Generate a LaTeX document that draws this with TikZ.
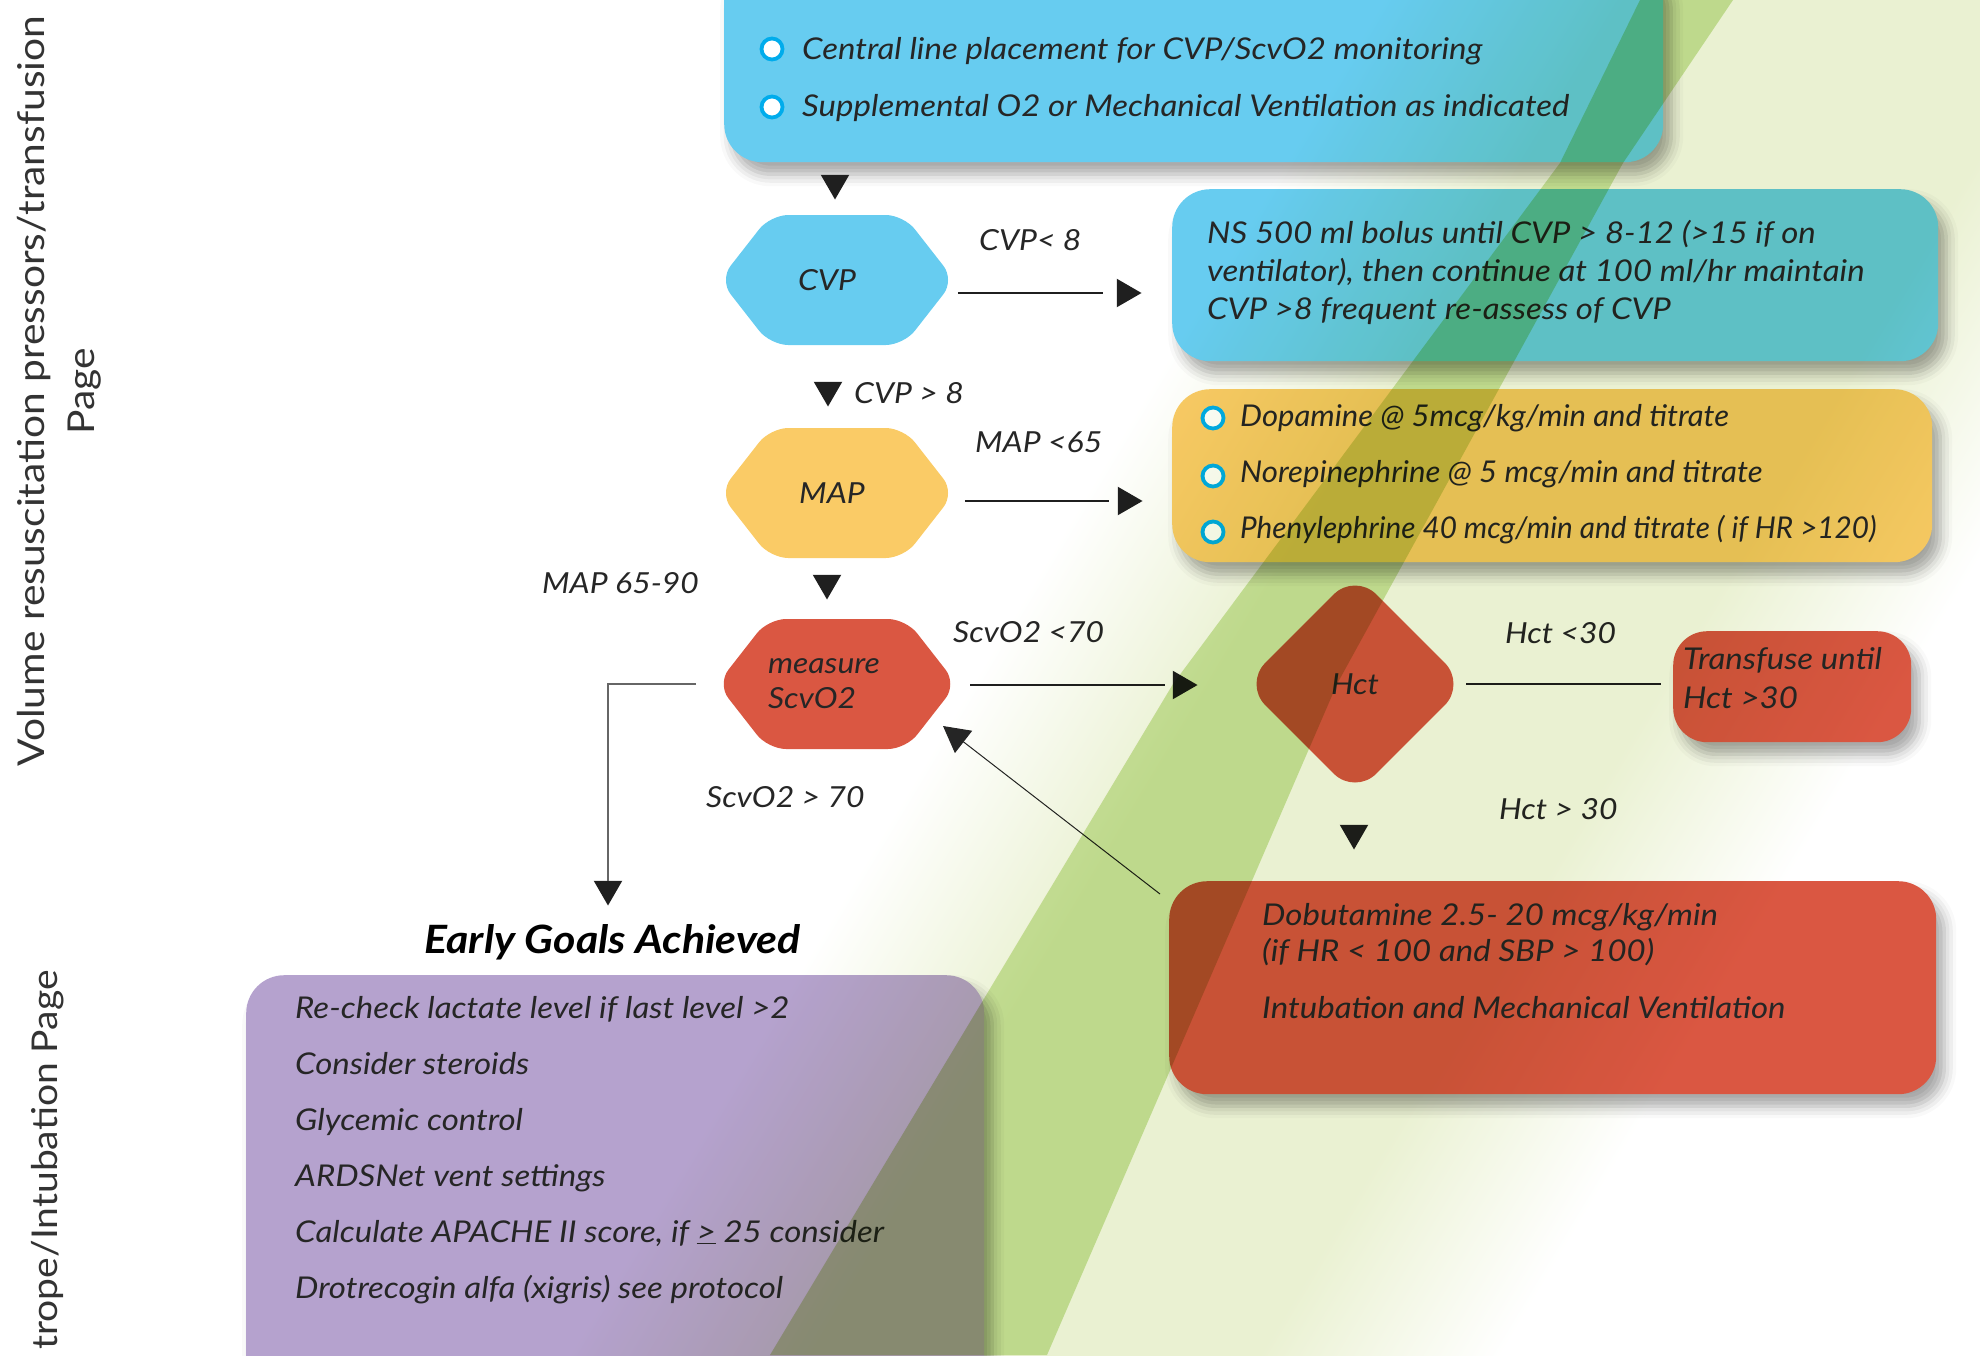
\documentclass[tikz,border=0pt]{standalone}
\usepackage{fontspec}
\setmainfont{Lato}[FakeStretch=1.1]
\usetikzlibrary{shapes.geometric,shapes.symbols,arrows.meta,shadows.blur}
\definecolor{cvpblue}{RGB}{103,204,240}
\definecolor{mapyellow}{RGB}{250,203,102}
\definecolor{scvred}{RGB}{218,87,66}
\definecolor{goalpurple}{RGB}{181,162,206}
\definecolor{ringblue}{RGB}{0,172,236}
\definecolor{washgreen}{RGB}{234,241,210}
\definecolor{coregreen}{RGB}{208,230,170}
\pgfdeclareverticalshading{washshade}{100bp}{color(0bp)=(white); color(25bp)=(white); color(38bp)=(washgreen); color(62bp)=(washgreen); color(75bp)=(white); color(100bp)=(white)}
\newcommand\txtbody{\fontsize{30}{36}\selectfont\itshape}
\newcommand\txtlabel{\fontsize{29}{35}\selectfont\itshape}
\newcommand\txtbold{\fontsize{39}{46}\selectfont\bfseries\itshape}
\newcommand\txtside{\fontsize{37}{44}\selectfont}
\tikzset{
  panel/.style={rounded corners=38pt, inner sep=0pt, anchor=north west,
    blur shadow={shadow xshift=8pt, shadow yshift=-12pt, shadow blur radius=12pt, shadow opacity=35}},
  hexnode/.style={signal, signal to=east and west, signal pointer angle=104,
    minimum width=235pt, minimum height=130pt, inner sep=0pt, rounded corners=18pt,
    font=\txtlabel, text=black!85},
  decide/.style={diamond, aspect=1, minimum width=222pt, minimum height=222pt,
    inner sep=0pt, rounded corners=30pt, font=\txtlabel, text=black!85},
  txtline/.style={font=\txtbody, anchor=base west, inner sep=0pt, text=black!85},
  lbl/.style={font=\txtlabel, anchor=base west, inner sep=0pt, text=black!85},
  side/.style={font=\txtside, inner sep=0pt, text=black!80},
  bul/.style={circle, draw=ringblue, line width=3.8pt, fill=white, minimum size=21pt, inner sep=0pt},
  tipR/.style={regular polygon, regular polygon sides=3, shape border rotate=-90,
    fill=black!88, minimum size=33pt, inner sep=0pt},
  tipD/.style={regular polygon, regular polygon sides=3, shape border rotate=180,
    fill=black!88, minimum size=33pt, inner sep=0pt},
  conn/.style={line width=1.4pt, black!88},
}
\begin{document}
\begin{tikzpicture}[x=1pt, y=-1pt]
\useasboundingbox (0,0) rectangle (1980,1355);
\clip (0,0) rectangle (1980,1355);

% side titles
\node[side, rotate=90] (vol) at (34,391) {Volume resuscitation pressors/transfusion};
\node[side, rotate=90] (volpg) at (85,391) {Page};
\node[side, font=\fontsize{35.5}{42}\selectfont, rotate=90, anchor=east] (ino) at (48,970) {trope/Intubation Page};

% setup panel
\node[panel, fill=cvpblue, minimum width=939pt, minimum height=202pt] (setup) at (724,-40) {};
\node[bul] (b1) at (772,49) {};
\node[txtline] (s1) at (802,59) {Central line placement for CVP/ScvO2 monitoring};
\node[bul] (b2) at (772,107) {};
\node[txtline] (s2) at (802,116) {Supplemental O2 or Mechanical Ventilation as indicated};
\node[tipD] (d1) at (835,183) {};

% CVP
\node[hexnode, fill=cvpblue] (cvp) at (837,280) {CVP\kern20pt};
\node[lbl] (cvplo) at (979,250) {CVP< 8};
\node[tipR] (r1) at (1125,293) {};
\draw[conn] ([xshift=3pt]cvp.east |- r1) -- ([xshift=-14pt]r1.west);
\node[panel, fill=cvpblue, minimum width=766pt, minimum height=172pt] (fluid) at (1172,189) {};
\node[txtline] (f1) at (1207,243) {NS 500 ml bolus until CVP > 8-12 (>15 if on};
\node[txtline] (f2) at (1207,281) {ventilator), then continue at 100 ml/hr maintain};
\node[txtline] (f3) at (1207,319) {CVP >8 frequent re-assess of CVP};
\node[tipD] (d2) at (828,390) {};
\node[lbl] (cvphi) at (854,403) {CVP > 8};

% MAP
\node[hexnode, fill=mapyellow] (map) at (837,493) {MAP\kern10pt};
\node[lbl] (maplo) at (975,452) {MAP <65};
\node[tipR] (r2) at (1126,501) {};
\draw[conn] ([xshift=10pt]map.east |- r2) -- ([xshift=-9pt]r2.west);
\node[panel, fill=mapyellow, minimum width=760pt, minimum height=173pt] (press) at (1172,389) {};
\node[bul] (b3) at (1213,418) {};
\node[txtline, xscale=0.94] (p1) at (1240,426) {Dopamine @ 5mcg/kg/min and titrate};
\node[bul] (b4) at (1213,476) {};
\node[txtline, xscale=0.945] (p2) at (1240,482) {Norepinephrine @ 5 mcg/min and titrate};
\node[bul] (b5) at (1213,532) {};
\node[txtline, xscale=0.9] (p3) at (1240,538) {Phenylephrine 40 mcg/min and titrate ( if HR >120)};
\node[tipD] (d3) at (827,583) {};
\node[lbl] (mapok) at (542,593) {MAP 65-90};

% ScvO2
\node[hexnode, fill=scvred, align=left] (scv) at (837,684) {measure\kern26pt\\ScvO2};
\node[lbl] (scvlo) at (953,642) {ScvO2 <70};
\node[tipR] (r3) at (1181,685) {};
\draw[conn] ([xshift=13pt]scv.east |- r3) -- ([xshift=-8pt]r3.west);
\node[lbl] (scvok) at (706,807) {ScvO2 > 70};

% Hct
\node[decide, fill=scvred] (hct) at (1355,684) {Hct};
\node[lbl] (hctlo) at (1505,643) {Hct <30};
\node[panel, fill=scvred, minimum width=238pt, minimum height=111pt, rounded corners=34pt] (trans) at (1673,631) {};
\node[txtline] (t1) at (1683,669) {Transfuse until};
\node[txtline] (t2) at (1683,708) {Hct >30};
\draw[conn] (hct.east) -- ([xshift=-12pt]trans.west |- hct);
\node[lbl] (hctok) at (1499,819) {Hct > 30};
\node[tipD] (d4) at (1354,833) {};

% inotrope panel
\node[panel, fill=scvred, minimum width=767pt, minimum height=213pt] (dob) at (1169,881) {};
\node[txtline] (o1) at (1262,925) {Dobutamine 2.5- 20 mcg/kg/min};
\node[txtline] (o2) at (1262,961) {(if HR < 100 and SBP > 100)};
\node[txtline] (o3) at (1262,1018) {Intubation and Mechanical Ventilation};
\coordinate (scvin) at (943,726);
\draw[line width=1pt, black!85, -{Triangle[length=26pt,width=28pt]}] ([shift={(-9,13)}]dob.north west) -- (scvin);

% goals
\node[tipD] (d5) at (608,889) {};
\draw[line width=1.4pt, black!60] ([xshift=-21pt]scv.west) -| (d5.north);
\node[font=\txtbold, anchor=base west, inner sep=0pt] (goalhd) at (424,953) {Early Goals Achieved};
\node[panel, fill=goalpurple, minimum width=738pt, minimum height=420pt] (goals) at (246,975) {};
\node[txtline] (g1) at (295,1018) {Re-check lactate level if last level >2};
\node[txtline] (g2) at (295,1074) {Consider steroids};
\node[txtline] (g3) at (295,1130) {Glycemic control};
\node[txtline] (g4) at (295,1186) {ARDSNet vent settings};
\node[txtline] (g5) at (295,1242) {Calculate APACHE II score, if \underline{>} 25 consider};
\node[txtline] (g6) at (295,1298) {Drotrecogin alfa (xigris) see protocol};

% green bands
\begin{scope}[blend mode=multiply]
\begin{scope}[transform canvas={shift={(1442,677)}, rotate=59}]
\shade[shading=washshade] (-1100,-400) rectangle (1100,400);
\end{scope}
\fill[coregreen] (1640,0) -- (1733,0) -- (1623,163) -- (1337,684) -- (1047,1355)
  -- (770,1355) -- (1173,684) -- (1560,163) -- cycle;
\end{scope}
\end{tikzpicture}
\end{document}
